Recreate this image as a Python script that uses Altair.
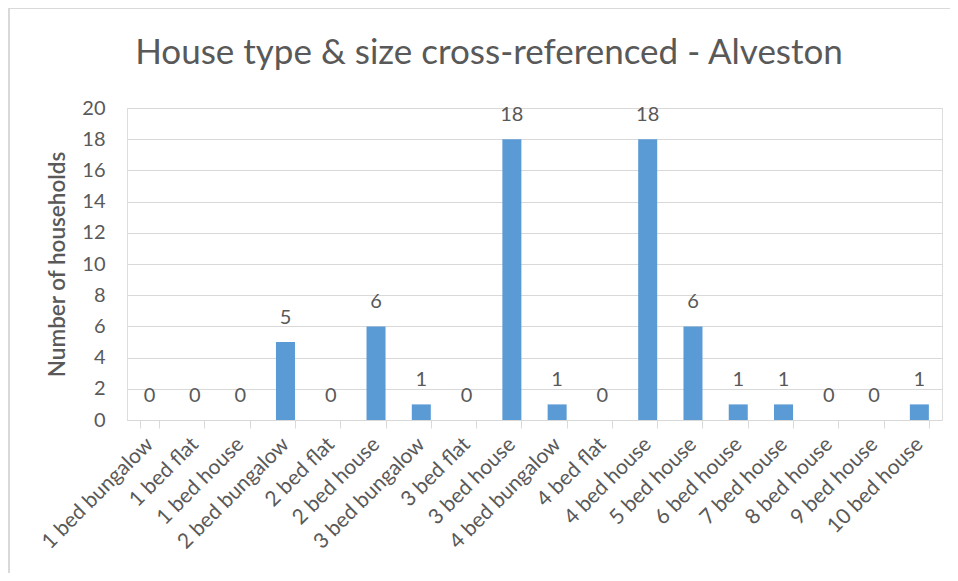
import altair as alt
import pandas as pd

categories = ["1 bed bungalow", "1 bed flat", "1 bed house", "2 bed bungalow", "2 bed flat",
              "2 bed house", "3 bed bungalow", "3 bed flat", "3 bed house", "4 bed bungalow",
              "4 bed flat", "4 bed house", "5 bed house", "6 bed house", "7 bed house",
              "8 bed house", "9 bed house", "10 bed house"]
values = [0, 0, 0, 5, 0, 6, 1, 0, 18, 1, 0, 18, 6, 1, 1, 0, 0, 1]
y_ticks = list(range(0, 21, 2))
title_text = "House type & size cross-referenced - Alveston"

df = pd.DataFrame({"cat": categories, "n": values})

FONT = "Lato"
TXT = "#595959"
GRID = "#d9d9d9"
BAR = "#5b9bd5"

x = alt.X("cat:N", sort=categories, title=None,
          scale=alt.Scale(paddingInner=0.58, paddingOuter=0.29),
          axis=alt.Axis(labelAngle=315, labelAlign="right", labelBaseline="middle",
                        labelFontSize=21, labelColor=TXT, labelFont=FONT, labelPadding=13,
                        tickBand="extent", tickColor=GRID, tickSize=8, domainColor=GRID,
                        grid=False, labelLimit=300, labelOverlap=False))
y = alt.Y("n:Q", title="Number of households",
          scale=alt.Scale(domain=[0, 20], nice=False),
          axis=alt.Axis(values=y_ticks, labelFontSize=20, labelColor=TXT, labelFont=FONT,
                        labelPadding=22, domain=False, ticks=False, gridColor=GRID,
                        labelOverlap=False,
                        titleFontSize=22.5, titleFont=FONT, titleColor=TXT, titleFontWeight=600,
                        titlePadding=12))

bars = alt.Chart(df).mark_bar(color=BAR).encode(x=x, y=y)
labels = alt.Chart(df).mark_text(dy=-24, fontSize=20, color=TXT, font=FONT).encode(
    x=x, y=y, text="n:Q")

one = pd.DataFrame({"t": [title_text]})
title = alt.Chart(one).mark_text(fontSize=35, color=TXT, font=FONT, align="center",
                                 baseline="alphabetic").encode(
    x=alt.value(362), y=alt.value(-44), text="t:N")
top_line = alt.Chart(one).mark_rule(color=GRID, strokeWidth=2).encode(
    x=alt.value(-118), x2=alt.value(840), y=alt.value(-100))
left_line = alt.Chart(one).mark_rule(color=GRID, strokeWidth=2).encode(
    x=alt.value(-118), y=alt.value(-100), y2=alt.value(480))

chart = alt.layer(bars, labels, title, top_line, left_line).properties(
    width=815, height=312,
    autosize=alt.AutoSizeParams(type="none"),
    padding={"left": 119, "top": 100, "right": 8, "bottom": 153},
).configure_view(stroke=None).configure(background="white")

chart.save("out.html", embed_options={"renderer": "svg", "actions": False})
